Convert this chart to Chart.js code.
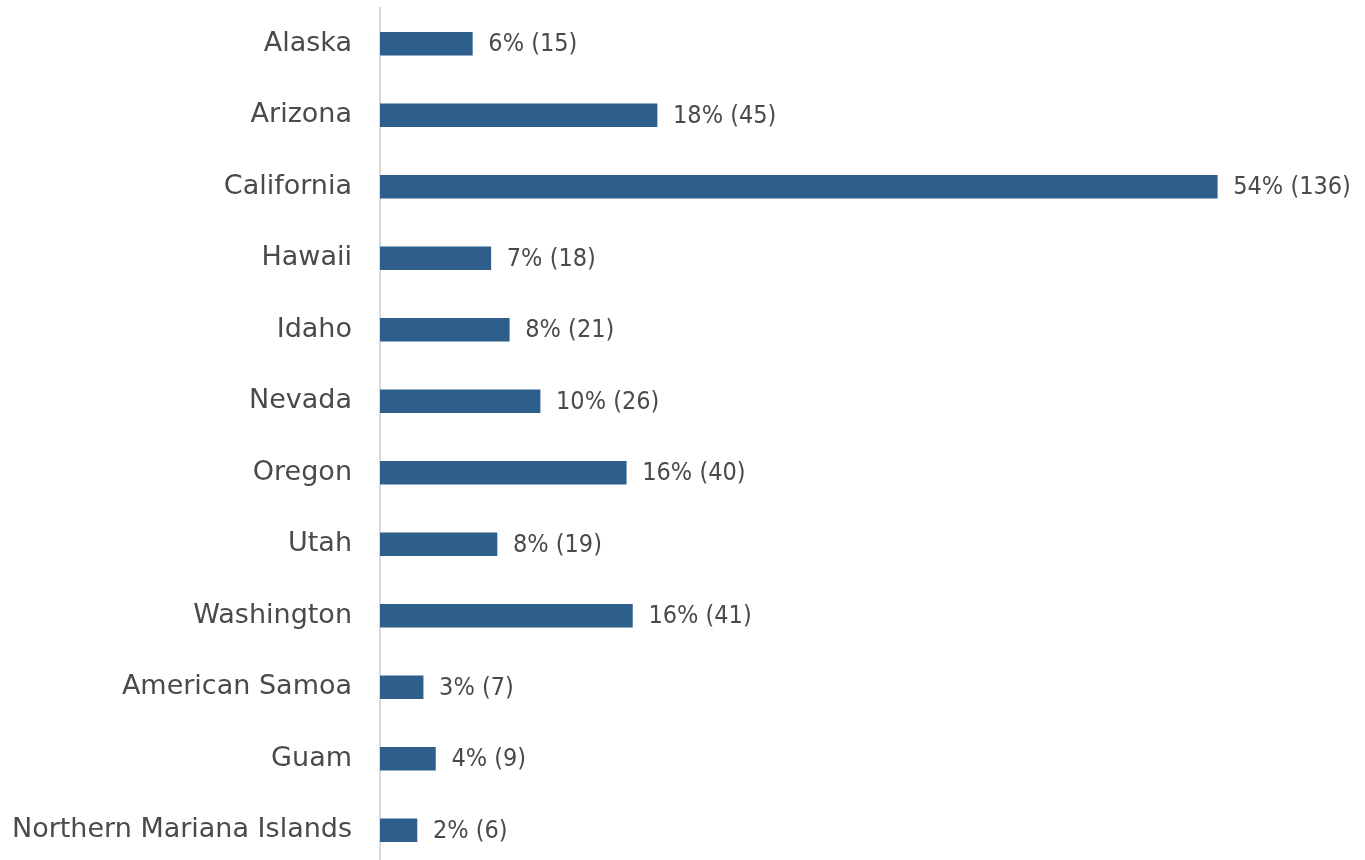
<html>
  <head>
    <script src="https://cdn.jsdelivr.net/npm/chart.js@4.4.0/dist/chart.umd.min.js"></script>
    <style>
      body { margin: 0; overflow: hidden; background: #fff; }
    </style>
  </head>
  <body>
    <canvas id="output" width="1365" height="866"></canvas>

    <script>
      // Data
      var states = ['Alaska', 'Arizona', 'California', 'Hawaii', 'Idaho', 'Nevada', 'Oregon', 'Utah',
        'Washington', 'American Samoa', 'Guam', 'Northern Mariana Islands'];
      var counts = [15, 45, 136, 18, 21, 26, 40, 19, 41, 7, 9, 6];
      var percents = [6, 18, 54, 7, 8, 10, 16, 8, 16, 3, 4, 2];

      var fontFamily = '"DejaVu Sans", sans-serif';
      var textColor = '#4a4a4a';

      // Draw "6% (15)" style labels at the end of each bar
      var barLabels = {
        id: 'barLabels',
        afterDatasetsDraw: function(chart) {
          var ctx = chart.ctx;
          var meta = chart.getDatasetMeta(0);
          ctx.save();
          ctx.font = '25px "DejaVu Sans Condensed", "DejaVu Sans", sans-serif';
          ctx.fillStyle = textColor;
          ctx.textAlign = 'left';
          ctx.textBaseline = 'middle';
          meta.data.forEach(function(bar, i) {
            ctx.fillText(percents[i] + '% (' + counts[i] + ')', bar.x + 16, bar.y + 1);
          });
          ctx.restore();
        }
      };

      var ctx = document.getElementById('output').getContext('2d');
      var myChart = new Chart(ctx, {
        type: 'bar',
        data: {
          labels: states,
          datasets: [{
            data: counts,
            backgroundColor: '#2E5E8C',
            barThickness: 23
          }]
        },
        options: {
          indexAxis: 'y',
          responsive: false,
          animation: false,
          layout: { padding: { top: 8, right: 0, left: 0, bottom: 0 } },
          plugins: {
            legend: { display: false },
            tooltip: { enabled: false }
          },
          scales: {
            x: {
              display: false,
              min: 0,
              max: 160
            },
            y: {
              afterFit: function(scale) {
                scale.width = 380;
                scale.paddingTop = 0;
                scale.paddingBottom = 0;
              },
              grid: { display: false },
              border: { display: true, color: '#d9d9d9', width: 2 },
              ticks: {
                padding: 20,
                color: textColor,
                font: { family: fontFamily, size: 27 }
              }
            }
          }
        },
        plugins: [barLabels]
      });
    </script>
  </body>
</html>
